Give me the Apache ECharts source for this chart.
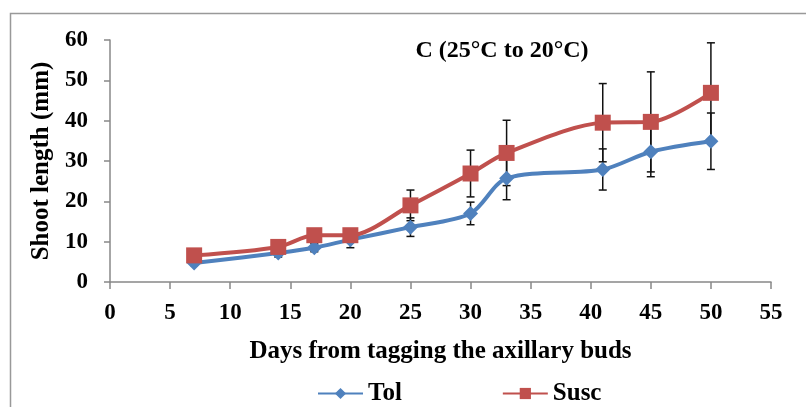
<!DOCTYPE html>
<html><head><meta charset="utf-8">
<script src="https://cdn.jsdelivr.net/npm/echarts@6/dist/echarts.min.js"></script>
<style>html,body{margin:0;padding:0;background:#fff}#c{width:806px;height:407px}</style>
</head><body><div id="c"></div>
<script>
var days = [7, 14, 17, 20, 25, 30, 33, 41, 45, 50];
var tolMean = [4.7, 7.2, 8.5, 10.5, 13.6, 17.0, 25.7, 27.9, 32.3, 34.9];
var tolErr  = [0.6, 1.0, 1.0, 2.0, 2.3, 2.8, 5.3, 5.1, 6.2, 7.0];
var suscMean = [6.6, 8.7, 11.6, 11.6, 19.0, 26.9, 32.0, 39.5, 39.7, 46.9];
var suscErr  = [0.8, 1.0, 1.2, 1.2, 3.8, 5.8, 8.1, 9.7, 12.4, 12.4];
var xTicks = [0, 5, 10, 15, 20, 25, 30, 35, 40, 45, 50, 55];
var yTicks = [0, 10, 20, 30, 40, 50, 60];

var F = '"Liberation Serif", "Times New Roman", serif';
function pairs(m){ return days.map(function(d,i){ return [d, m[i]]; }); }
function errs(m,e){ return days.map(function(d,i){ return [d, m[i]-e[i], m[i]+e[i]]; }); }
function errRender(params, api){
  var x = api.value(0), lo = api.coord([x, api.value(1)]), hi = api.coord([x, api.value(2)]);
  var w = 4;
  var st = {stroke:'#111', lineWidth:1.5};
  return {type:'group', children:[
    {type:'line', shape:{x1:lo[0],y1:lo[1],x2:hi[0],y2:hi[1]}, style:st},
    {type:'line', shape:{x1:lo[0]-w,y1:lo[1],x2:lo[0]+w,y2:lo[1]}, style:st},
    {type:'line', shape:{x1:hi[0]-w,y1:hi[1],x2:hi[0]+w,y2:hi[1]}, style:st}
  ]};
}
var chart = echarts.init(document.getElementById('c'));
chart.setOption({
  animation:false,
  backgroundColor:'#fff',
  graphic:[{type:'rect', left:8, top:11, shape:{width:820, height:420}, style:{fill:'none', stroke:'#999', lineWidth:1.5}, silent:true},
    {type:'text', x:502, y:51, style:{text:'C (25°C to 20°C)', font:'bold 24px '+F, fill:'#000', align:'center', verticalAlign:'middle'}}],
  grid:{left:110, right:35, top:40, bottom:125},
  xAxis:{type:'value', min:xTicks[0], max:xTicks[xTicks.length-1], interval:5,
    name:'Days from tagging the axillary buds', nameLocation:'middle', nameGap:57,
    nameTextStyle:{fontFamily:F, fontWeight:'bold', fontSize:25, color:'#000'},
    axisLine:{lineStyle:{color:'#888', width:1.5}}, axisTick:{show:true, length:7, inside:false, lineStyle:{color:'#888', width:1.5}},
    axisLabel:{fontFamily:F, fontWeight:'bold', fontSize:23, color:'#000', margin:20}, splitLine:{show:false}},
  yAxis:{type:'value', min:yTicks[0], max:yTicks[yTicks.length-1], interval:10,
    name:'Shoot length (mm)', nameLocation:'middle', nameGap:51,
    nameTextStyle:{fontFamily:F, fontWeight:'bold', fontSize:25, color:'#000'},
    axisLine:{show:true, lineStyle:{color:'#888', width:1.5}}, axisTick:{show:true, length:6, lineStyle:{color:'#888', width:1.5}},
    axisLabel:{fontFamily:F, fontWeight:'bold', fontSize:23, color:'#000', margin:22}, splitLine:{show:false}},
  legend:{top:376, left:312, itemGap:100, itemWidth:45, itemHeight:14,
    textStyle:{fontFamily:F, fontWeight:'bold', fontSize:25, color:'#000'},
    data:['Tol','Susc']},
  series:[
    {type:'custom', name:'tolErr', renderItem:errRender, data:errs(tolMean,tolErr), z:1, encode:{x:0,y:[1,2]}},
    {type:'custom', name:'suscErr', renderItem:errRender, data:errs(suscMean,suscErr), z:1, encode:{x:0,y:[1,2]}},
    {type:'line', name:'Tol', data:pairs(tolMean), smooth:0.3, symbol:'diamond', symbolSize:15,
      lineStyle:{color:'#4F81BD', width:4}, itemStyle:{color:'#4F81BD'}, z:3},
    {type:'line', name:'Susc', data:pairs(suscMean), smooth:0.3, symbol:'rect', symbolSize:16,
      lineStyle:{color:'#C0504D', width:4}, itemStyle:{color:'#C0504D'}, z:4}
  ]
});
</script></body></html>
